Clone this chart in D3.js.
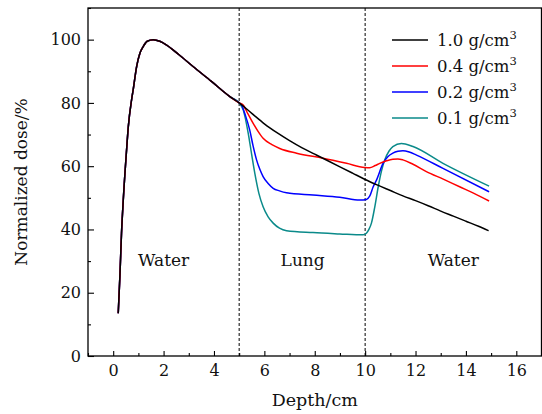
<!DOCTYPE html>
<html><head><meta charset="utf-8">
<script src="https://cdn.jsdelivr.net/npm/d3@7"></script>
<style>body{margin:0;background:#fff}svg{display:block}</style>
</head><body>
<svg id="c" width="542" height="414"></svg>
<script>
// Shared water entrance region (0–5 cm)
const entryDepth = [0.2, 0.27, 0.33, 0.4, 0.53, 0.6, 0.73, 0.79, 0.93, 1.06, 1.19, 1.35, 1.59, 1.85, 2.12, 2.6, 3.17, 3.9, 4.63];
const entryDose  = [13.5, 26, 38.8, 49.3, 65, 72.5, 81, 84, 91.5, 95.7, 97.8, 99.5, 100, 99.5, 98.3, 95.3, 91.5, 86.8, 82];

const depth10 = [5.0, 5.5, 6, 6.5, 7, 7.5, 8, 8.5, 9, 9.5, 10, 10.5, 11, 11.5, 12, 12.5, 13, 13.5, 14, 14.5, 14.9];
const dose10  = [80, 76.7, 73.4, 70.6, 68.1, 65.8, 63.8, 61.8, 59.8, 57.8, 55.8, 54.0, 52.3, 50.6, 49.1, 47.5, 45.8, 44.2, 42.6, 41.0, 39.6];

const depth04 = [5.0, 5.16, 5.35, 5.55, 5.75, 5.95, 6.3, 6.61, 7.28, 8.33, 9.26, 9.98, 10.18, 10.4, 10.58, 10.85, 11.1, 11.3, 11.5, 11.9, 12.43, 13.1, 13.75, 14.3, 14.92];
const dose04  = [80, 79.3, 76.5, 73.6, 71, 68.8, 66.8, 65.6, 64.1, 62.5, 60.9, 59.6, 59.5, 60.2, 60.9, 61.7, 62.2, 62.3, 62, 60.6, 58.3, 55.9, 53.5, 51.5, 49];

const depth02 = [5.0, 5.09, 5.25, 5.42, 5.55, 5.69, 5.82, 5.95, 6.15, 6.35, 6.6, 6.88, 7.93, 8.99, 9.79, 10.05, 10.18, 10.32, 10.45, 10.71, 10.9, 11.1, 11.3, 11.5, 11.75, 12.04, 13.09, 14.92];
const dose02  = [80, 79.4, 76, 71.4, 66.5, 62, 59, 56.7, 54.5, 53, 52.2, 51.6, 50.9, 50.2, 49.3, 49.5, 50.5, 53.5, 55.6, 60.9, 63, 64.1, 64.7, 64.9, 64.5, 63.5, 59.3, 51.9];

const depth01 = [5.0, 5.16, 5.36, 5.5, 5.62, 5.78, 5.95, 6.15, 6.35, 6.6, 6.88, 7.93, 8.99, 9.92, 10.05, 10.15, 10.25, 10.38, 10.52, 10.65, 10.78, 10.95, 11.1, 11.44, 11.9, 13.09, 14.92];
const dose01  = [80, 77.8, 70.4, 63.5, 57.8, 51.5, 47.2, 44, 42, 40.4, 39.6, 39, 38.6, 38.3, 38.8, 40, 42, 47, 53.5, 58.5, 62, 64.8, 66.2, 67.2, 66.2, 60.9, 53.7];

const seriesNames = ["1.0", "0.4", "0.2", "0.1"];
const seriesColors = ["#000000", "#ff0000", "#0000ff", "#0a8a8a"];
const seriesDepths = [depth10, depth04, depth02, depth01];
const seriesDoses = [dose10, dose04, dose02, dose01];

const xTicks = [0, 2, 4, 6, 8, 10, 12, 14, 16];
const xMinor = [-1, 1, 3, 5, 7, 9, 11, 13, 15, 17];
const yTicks = [0, 20, 40, 60, 80, 100];
const yMinor = [10, 30, 50, 70, 90, 110];
const boundaries = [5, 10];
const regionLabels = [{t: "Water", x: 2.0}, {t: "Lung", x: 7.52}, {t: "Water", x: 13.5}];

const L = 88, R = 541.5, T = 8, B = 356;
const x = d3.scaleLinear().domain([-1, 17]).range([L, R]);
const y = d3.scaleLinear().domain([0, 110]).range([B, T]);
const svg = d3.select("#c");
const FONT = "DejaVu Serif";

// dashed boundaries
svg.selectAll("line.bd").data(boundaries).enter().append("line")
  .attr("x1", d => x(d)).attr("x2", d => x(d)).attr("y1", T).attr("y2", B)
  .attr("stroke", "#000").attr("stroke-width", 1).attr("stroke-dasharray", "3,2");

// series
const line = d3.line().x(d => x(d[0])).y(d => y(d[1])).curve(d3.curveMonotoneX);
const order = [3, 2, 1, 0];
order.forEach(i => {
  const pts = entryDepth.map((d, k) => [d, entryDose[k]])
    .concat(seriesDepths[i].map((d, k) => [d, seriesDoses[i][k]]));
  svg.append("path").attr("d", line(pts)).attr("fill", "none")
    .attr("stroke", seriesColors[i]).attr("stroke-width", 1.5).attr("stroke-linejoin", "round");
});

// axes
const gx = svg.append("g").attr("transform", `translate(0,${B})`)
  .call(d3.axisBottom(x).tickValues(xTicks).tickSize(-5).tickPadding(9).tickFormat(d3.format("d")));
const gxm = svg.append("g").attr("transform", `translate(0,${B})`)
  .call(d3.axisBottom(x).tickValues(xMinor).tickSize(-3).tickFormat(""));
const gy = svg.append("g").attr("transform", `translate(${L},0)`)
  .call(d3.axisLeft(y).tickValues(yTicks).tickSize(-6).tickPadding(7).tickFormat(d3.format("d")));
const gym = svg.append("g").attr("transform", `translate(${L},0)`)
  .call(d3.axisLeft(y).tickValues(yMinor).tickSize(-3).tickFormat(""));
[gx, gxm, gy, gym].forEach(g => {
  g.select(".domain").remove();
  g.selectAll(".tick line").attr("stroke", "#000").attr("stroke-width", 1.1);
  g.selectAll("text").attr("font-family", FONT).attr("font-size", 16).attr("fill", "#111");
});

// frame
svg.append("rect").attr("x", L).attr("y", T).attr("width", R - L).attr("height", B - T)
  .attr("fill", "none").attr("stroke", "#000").attr("stroke-width", 1.3);

// region labels
svg.selectAll("text.rl").data(regionLabels).enter().append("text")
  .attr("x", d => x(d.x)).attr("y", y(28.5)).attr("text-anchor", "middle")
  .attr("font-family", FONT).attr("font-size", 17).attr("fill", "#111").text(d => d.t);

// axis titles
svg.append("text").attr("x", (L + R) / 2).attr("y", 406).attr("text-anchor", "middle")
  .attr("font-family", FONT).attr("font-size", 17.5).attr("fill", "#111").text("Depth/cm");
svg.append("text").attr("transform", `translate(27,${(T + B) / 2}) rotate(-90)`).attr("text-anchor", "middle")
  .attr("font-family", FONT).attr("font-size", 17).attr("fill", "#111").text("Normalized dose/%");

// legend
const lg = svg.append("g");
seriesNames.forEach((n, i) => {
  const yy = 40 + i * 26;
  lg.append("line").attr("x1", 392).attr("x2", 428).attr("y1", yy).attr("y2", yy)
    .attr("stroke", seriesColors[i]).attr("stroke-width", 1.5);
  const t = lg.append("text").attr("x", 437).attr("y", yy + 6)
    .attr("font-family", FONT).attr("font-size", 16.5).attr("fill", "#111");
  t.append("tspan").text(n + " g/cm");
  t.append("tspan").attr("font-size", 11.5).attr("dy", -7).text("3");
});
</script>
</body></html>
